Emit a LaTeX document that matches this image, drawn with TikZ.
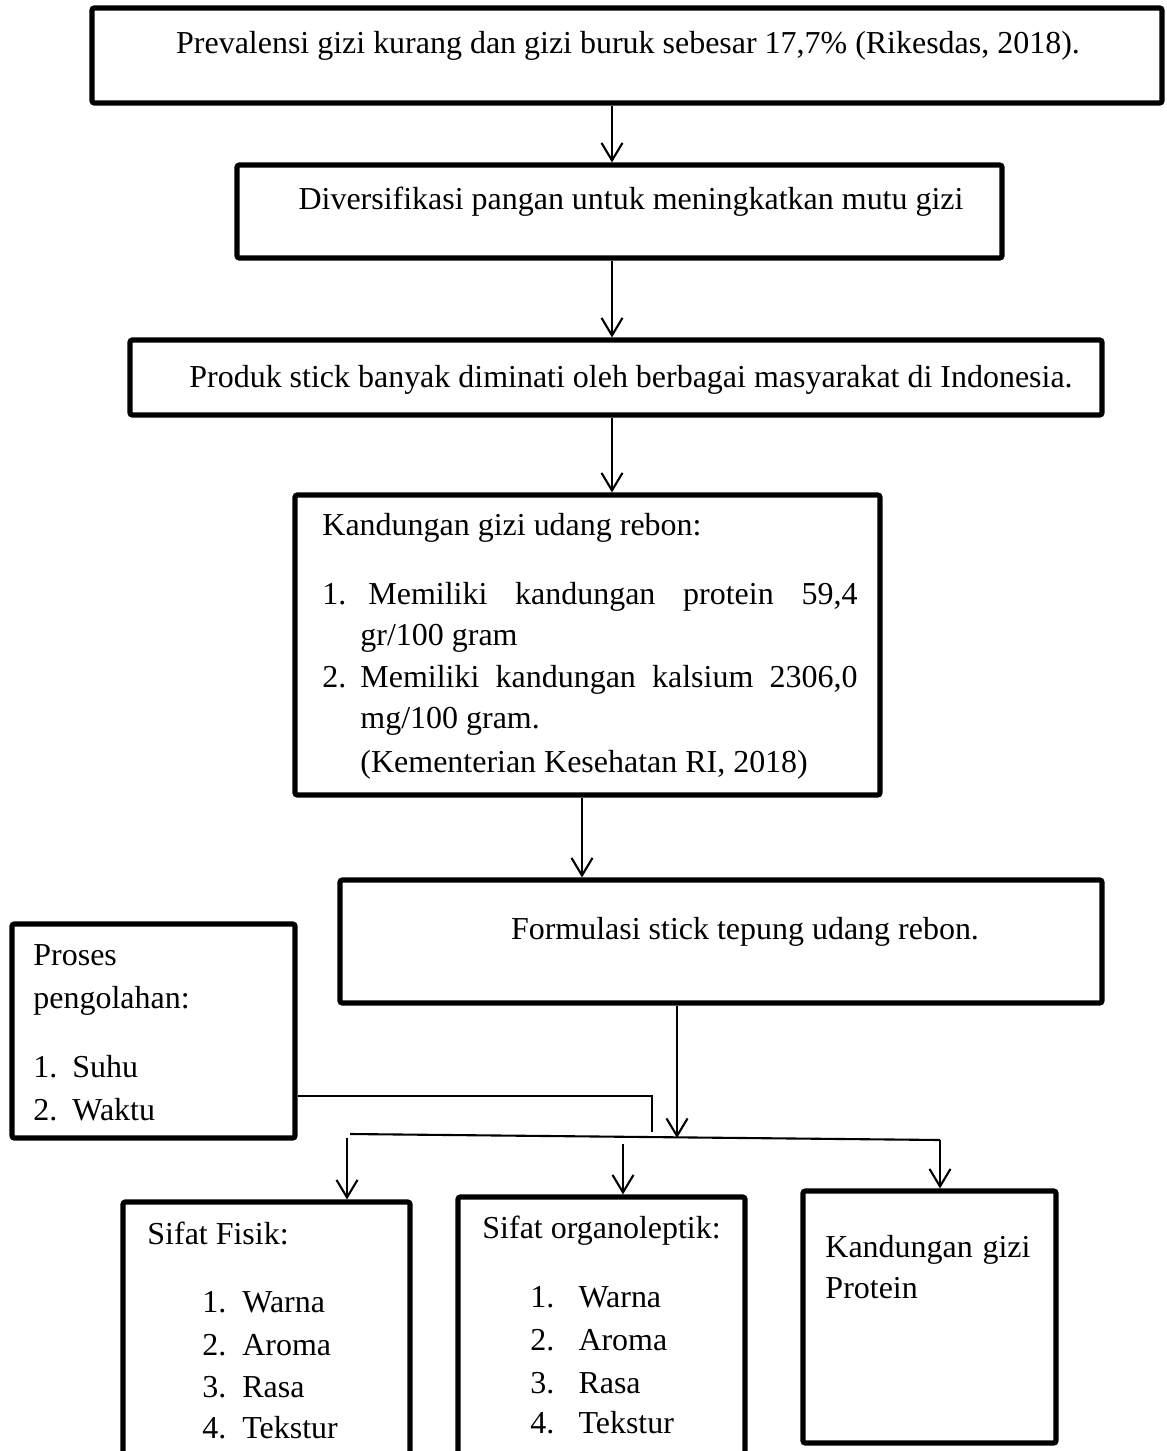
\documentclass[tikz,border=0pt]{standalone}
\usepackage{fontspec}
\setmainfont{Liberation Serif}
\usetikzlibrary{arrows.meta,fit}
\begin{document}
\begin{tikzpicture}[x=0.4286pt,y=-0.4286pt,
  box/.style={draw, line width=2.2pt, rounded corners=1pt, inner sep=0pt},
  txt/.style={inner sep=0pt, anchor=base west, font=\fontsize{13.7pt}{18pt}\selectfont},
  ctxt/.style={txt, anchor=base},
  conn/.style={line width=0.9pt},
  arr/.style={line width=0.9pt, -{Straight Barb[length=7.5pt,width=9pt,line width=0.9pt]}}]
\clip (0,0) rectangle (1166,1451);
\fill[white] (0,0) rectangle (1166,1451);

% boxes
\node[box, fit={(92,8) (1162,103)}] (b1) {};
\node[box, fit={(237,165) (1002,258)}] (b2) {};
\node[box, fit={(130,340) (1102,415)}] (b3) {};
\node[box, fit={(295,495) (880,795)}] (b4) {};
\node[box, fit={(340,880) (1102,1003)}] (b5) {};
\node[box, fit={(12,924) (295,1138)}] (pr) {};
\node[box, fit={(123,1202) (410,1480)}] (fis) {};
\node[box, fit={(458,1197) (745,1480)}] (org) {};
\node[box, fit={(803,1191) (1056,1443)}] (pro) {};

% texts
\node[ctxt] (t1) at (628,54) {Prevalensi gizi kurang dan gizi buruk sebesar 17,7\% (Rikesdas, 2018).};
\node[ctxt] (t2) at (631,209) {Diversifikasi pangan untuk meningkatkan mutu gizi};
\node[ctxt] (t3) at (631,387) {Produk stick banyak diminati oleh berbagai masyarakat di Indonesia.};

\node[txt] (k0) at (322,535) {Kandungan gizi udang rebon:};
\node[txt] (k1) at (322,604) {\hbox to 229.3pt{\makebox[16.3pt][l]{1.}\hskip3.4pt Memiliki\hfill kandungan\hfill protein\hfill 59,4}};
\node[txt] (k2) at (360,645) {gr/100 gram};
\node[txt] (k3) at (322,687) {\hbox to 229.3pt{\makebox[16.3pt][l]{2.}Memiliki\hfill kandungan\hfill kalsium\hfill 2306,0}};
\node[txt] (k4) at (360,728) {mg/100 gram.};
\node[txt] (k5) at (360,772) {(Kementerian Kesehatan RI, 2018)};

\node[ctxt] (t5) at (745,939) {Formulasi stick tepung udang rebon.};

\node[txt] (p0) at (33,965) {Proses};
\node[txt] (p1) at (33,1008) {pengolahan:};
\node[txt] (p2) at (33,1077) {\makebox[16.7pt][l]{1.}Suhu};
\node[txt] (p3) at (33,1120) {\makebox[16.7pt][l]{2.}Waktu};

\node[txt] (f0) at (147,1244) {Sifat Fisik:};
\node[txt] (f1) at (202,1312) {\makebox[17.1pt][l]{1.}Warna};
\node[txt] (f2) at (202,1355) {\makebox[17.1pt][l]{2.}Aroma};
\node[txt] (f3) at (202,1397) {\makebox[17.1pt][l]{3.}Rasa};
\node[txt] (f4) at (202,1438) {\makebox[17.1pt][l]{4.}Tekstur};

\node[txt] (o0) at (482,1238) {Sifat organoleptik:};
\node[txt] (o1) at (530,1307) {\makebox[20.6pt][l]{1.}Warna};
\node[txt] (o2) at (530,1350) {\makebox[20.6pt][l]{2.}Aroma};
\node[txt] (o3) at (530,1393) {\makebox[20.6pt][l]{3.}Rasa};
\node[txt] (o4) at (530,1433) {\makebox[20.6pt][l]{4.}Tekstur};

\node[txt] (g0) at (825,1257) {\hbox to 87.9pt{Kandungan\hfill gizi}};
\node[txt] (g1) at (825,1298) {Protein};

% connector coordinates
\coordinate (xa) at (612,0);
\coordinate (xb) at (582,0);
\coordinate (yp) at (0,1096);
\coordinate (pj) at (652,1132);
\coordinate (jm) at (677,1138);
\coordinate (hl) at (350,1134);
\coordinate (hr) at (940,1140);
\coordinate (s1) at (347,1138);
\coordinate (s2) at (623,1144);

% connectors
\draw[arr] (b1.south -| xa) -- (b2.north -| xa);
\draw[arr] (b2.south -| xa) -- (b3.north -| xa);
\draw[arr] (b3.south -| xa) -- (b4.north -| xa);
\draw[arr] (b4.south -| xb) -- (b5.north -| xb);
\draw[conn] (pr.east |- yp) -| (pj);
\draw[arr] (b5.south -| jm) -- (jm);
\draw[conn] (hl) -- (hr);
\draw[arr] (s1) -- (fis.north -| s1);
\draw[arr] (s2) -- (org.north -| s2);
\draw[arr] (hr) -- (pro.north -| hr);
\end{tikzpicture}
\end{document}
